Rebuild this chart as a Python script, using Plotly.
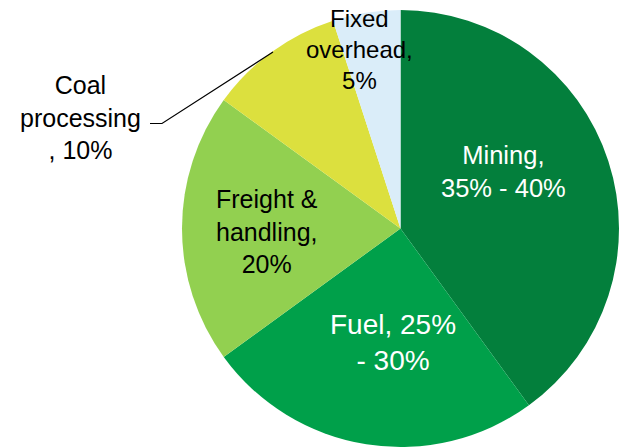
import plotly.graph_objects as go

categories = ["Mining", "Fuel", "Freight & handling", "Coal processing", "Fixed overhead"]
values = [40, 25, 20, 10, 5]
label_texts = ["Mining,<br>35% - 40%", "Fuel, 25%<br>- 30%", "Freight &<br>handling,<br>20%",
               "Coal<br>processing<br>, 10%", "Fixed<br>overhead,<br>5%"]
colors = ["#037F3C", "#00A04A", "#92D050", "#DCE03E", "#DAEDF9"]

W, H = 621, 448
cx, cy, r = 400.5, 228.5, 218.5

fig = go.Figure(go.Pie(
    labels=categories, values=values, sort=False, direction="clockwise", rotation=0,
    marker=dict(colors=colors, line=dict(width=0)),
    textinfo="none", hoverinfo="label+percent", showlegend=False,
    domain=dict(x=[(cx - r) / W, (cx + r) / W], y=[1 - (cy + r) / H, 1 - (cy - r) / H]),
))

# label positions (pixels) and styles
lab_pos = [(503.5, 171), (392.5, 342), (266.5, 231), (80, 117), (359.5, 49)]
lab_size = [25.5, 28, 25, 25, 24]
lab_col = ["white", "white", "black", "black", "black"]
for t, (px, py), s, c in zip(label_texts, lab_pos, lab_size, lab_col):
    fig.add_annotation(x=px / W, y=1 - py / H, xref="paper", yref="paper", text=t,
                       showarrow=False, xanchor="center", yanchor="middle",
                       font=dict(family="Liberation Sans, Arial", size=s, color=c))

# leader line for Coal processing
pts = [(150, 123.5), (162, 123.5), (273, 52)]
path = "M " + " L ".join(f"{x / W},{1 - y / H}" for x, y in pts)
fig.add_shape(type="path", path=path, xref="paper", yref="paper",
              line=dict(color="black", width=1.2))

fig.update_layout(width=W, height=H, margin=dict(l=0, r=0, t=0, b=0),
                  paper_bgcolor="white", plot_bgcolor="white")
fig.write_html("out.html", config={"displayModeBar": False},
               post_script="document.body.style.margin='0';document.body.style.overflow='hidden';")
